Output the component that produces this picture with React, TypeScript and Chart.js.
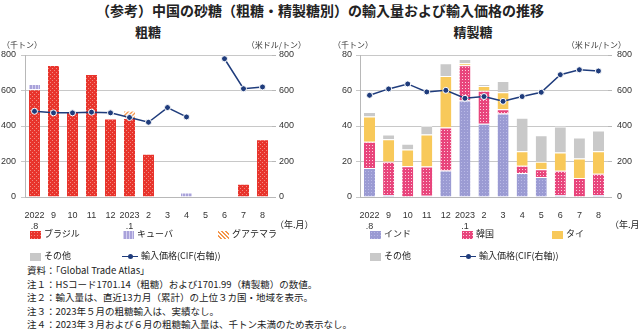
import React, { useEffect, useRef } from "react";
import { Chart, registerables } from "chart.js";
Chart.register(...registerables);

const months: (string | string[])[] = [["2022", ".8"], "9", "10", "11", "12", ["2023", ".1"], "2", "3", "4", "5", "6", "7", "8"];

// 粗糖 (千トン)
const rawBrazil = [607, 743, 485, 693, 442, 445, 244, null, null, null, null, 75, 326];
const rawCuba = [30, null, null, null, null, null, null, null, 26, null, null, null, null];
const rawGuatemala = [null, null, null, null, null, 42, null, null, null, null, null, null, null];
const rawOther = [null, null, null, null, null, null, null, null, null, null, null, null, null];
const rawPrice = [483, 474, 474, 478, 474, 448, 421, 504, 451, null, 779, 610, 620];

// 精製糖 (千トン)
const refIndia = [16.3, 1.1, 0, 0.7, 15.0, 54.3, 41.2, 47.0, 13.5, 11.2, 1.0, 0.3, 1.1];
const refKorea = [14.8, 18.8, 17.3, 16.5, 24.1, 19.9, 18.7, 2.4, 4.1, 4.5, 13.8, 10.4, 12.0];
const refThai = [14.2, 12.7, 9.4, 18.0, 29.1, 1.1, 2.6, 9.6, 8.2, 4.2, 10.3, 11.0, 12.7];
const refOther = [2.6, 2.6, 3.3, 4.9, 7.1, 2.4, 1.2, 6.4, 18.8, 14.9, 14.6, 11.8, 11.7];
const refPrice = [573, 609, 637, 592, 601, 556, 566, 539, 566, 590, 689, 717, 710];

const leftTicks = [0, 200, 400, 600, 800];
const rightTicksRef = [0, 20, 40, 60, 80];

const FONT = "'Liberation Sans', 'Noto Sans CJK JP', sans-serif";
const JFONT = "'Noto Sans CJK JP', sans-serif";
const NAVY = "#1f3c7c";
const GRID = "#c8c8c8";

function makePattern(size: number, draw: (ctx: CanvasRenderingContext2D) => void): CanvasPattern {
  const c = document.createElement("canvas");
  c.width = size;
  c.height = size;
  const ctx = c.getContext("2d")!;
  draw(ctx);
  return ctx.createPattern(c, "repeat")!;
}

function patterns() {
  const brazil = makePattern(4, (ctx) => {
    ctx.fillStyle = "#e8342c";
    ctx.fillRect(0, 0, 4, 4);
    ctx.fillStyle = "#f38a82";
    ctx.fillRect(0, 0, 1, 1);
    ctx.fillRect(2, 2, 1, 1);
  });
  const cuba = makePattern(3, (ctx) => {
    ctx.fillStyle = "#a9a2da";
    ctx.fillRect(0, 0, 3, 3);
    ctx.fillStyle = "#d4d0f0";
    ctx.fillRect(2, 0, 1, 3);
  });
  const guat = makePattern(4, (ctx) => {
    ctx.fillStyle = "#ffffff";
    ctx.fillRect(0, 0, 4, 4);
    ctx.strokeStyle = "#f4964c";
    ctx.lineWidth = 1.3;
    ctx.beginPath();
    ctx.moveTo(-1, 5);
    ctx.lineTo(5, -1);
    ctx.moveTo(-1, 1);
    ctx.lineTo(1, -1);
    ctx.moveTo(3, 5);
    ctx.lineTo(5, 3);
    ctx.stroke();
  });
  const india = makePattern(3, (ctx) => {
    ctx.fillStyle = "#9b9bd3";
    ctx.fillRect(0, 0, 3, 3);
    ctx.fillStyle = "#b9b9e6";
    ctx.fillRect(0, 0, 1, 1);
  });
  const korea = makePattern(3, (ctx) => {
    ctx.fillStyle = "#e8457c";
    ctx.fillRect(0, 0, 3, 3);
    ctx.fillStyle = "#fbd0dd";
    ctx.fillRect(1, 1, 1, 1);
  });
  return { brazil, cuba, guat, india, korea };
}

function unitPlugin(leftX: number, rightX: number) {
  return {
    id: "units",
    afterDraw(chart: any) {
      const ctx = chart.ctx as CanvasRenderingContext2D;
      ctx.save();
      ctx.font = `8px ${JFONT}`;
      ctx.fillStyle = "#333";
      ctx.textBaseline = "middle";
      ctx.textAlign = "left";
      ctx.fillText("（千トン）", leftX, 9);
      ctx.textAlign = "right";
      ctx.fillText("（米ドル/トン）", rightX, 9);
      ctx.restore();
    },
  };
}

function buildConfig(
  bars: { label: string; data: (number | null)[]; bg: any }[],
  price: (number | null)[],
  leftMax: number,
  leftStep: number,
  leftW: number,
  rightW: number,
  leftPad: number,
  rightPad: number,
  unitLeftX: number
): any {
  const datasets: any[] = [
    {
      type: "line",
      label: "輸入価格(CIF(右軸))",
      data: price,
      yAxisID: "y1",
      borderColor: NAVY,
      borderWidth: 1.5,
      pointRadius: 3,
      pointBackgroundColor: NAVY,
      pointBorderColor: "#ffffff",
      pointBorderWidth: 1,
      spanGaps: false,
      order: 0,
    },
    ...bars.map((b) => ({
      type: "bar",
      label: b.label,
      data: b.data,
      backgroundColor: b.bg,
      borderColor: "#ffffff",
      borderWidth: { top: 1, left: 0, right: 0, bottom: 0 },
      borderSkipped: "bottom",
      barPercentage: 0.58,
      categoryPercentage: 1,
      yAxisID: "y",
      stack: "s",
      order: 1,
    })),
  ];
  return {
    type: "bar",
    data: { labels: months, datasets },
    options: {
      animation: false,
      responsive: false,
      maintainAspectRatio: false,
      layout: { padding: { top: 19, left: 0, right: 0, bottom: 0 } },
      plugins: { legend: { display: false }, tooltip: { enabled: false } },
      scales: {
        x: {
          stacked: true,
          grid: { display: false },
          border: { display: true, color: "#b8b8b8" },
          ticks: {
            autoSkip: false,
            maxRotation: 0,
            minRotation: 0,
            padding: 5,
            color: "#333",
            font: { size: 9, family: FONT },
          },
          afterFit(axis: any) {
            axis.height = 33;
          },
        },
        y: {
          stacked: true,
          min: 0,
          max: leftMax,
          ticks: { stepSize: leftStep, padding: leftPad, color: "#333", font: { size: 9, family: FONT } },
          grid: { color: GRID, lineWidth: 1, tickLength: 4 },
          border: { display: true, color: "#b8b8b8" },
          afterFit(axis: any) {
            axis.width = leftW;
          },
        },
        y1: {
          position: "right",
          min: 0,
          max: 800,
          ticks: { stepSize: 200, padding: rightPad, color: "#333", font: { size: 9, family: FONT } },
          grid: { drawOnChartArea: false, color: "#b8b8b8", tickLength: 4 },
          border: { display: false },
          afterFit(axis: any) {
            axis.width = rightW;
          },
        },
      },
    },
    plugins: [unitPlugin(unitLeftX, 306)],
  };
}

const swatch = (bg: string, extra: React.CSSProperties = {}): React.CSSProperties => ({
  display: "inline-block",
  width: 11,
  height: 8,
  background: bg,
  marginRight: 3,
  verticalAlign: "middle",
  ...extra,
});

const legendText: React.CSSProperties = {
  position: "absolute",
  fontSize: 9,
  fontFamily: JFONT,
  color: "#222",
  whiteSpace: "nowrap",
  lineHeight: "12px",
};

const dotBg = (base: string, dot: string) =>
  `radial-gradient(circle, ${dot} 0.6px, transparent 0.8px) 0 0 / 3px 3px, ${base}`;

function LineIcon() {
  return (
    <span style={{ display: "inline-block", position: "relative", width: 16, height: 8, marginRight: 3, verticalAlign: "middle" }}>
      <span style={{ position: "absolute", left: 0, top: 3.5, width: 16, height: 1.2, background: NAVY }} />
      <span style={{ position: "absolute", left: 5.5, top: 1.5, width: 5, height: 5, borderRadius: 3, background: NAVY }} />
    </span>
  );
}

export default function App() {
  const leftRef = useRef<HTMLCanvasElement>(null);
  const rightRef = useRef<HTMLCanvasElement>(null);

  useEffect(() => {
    const p = patterns();
    const c1 = new Chart(
      leftRef.current!,
      buildConfig(
        [
          { label: "ブラジル", data: rawBrazil, bg: p.brazil },
          { label: "キューバ", data: rawCuba, bg: p.cuba },
          { label: "グアテマラ", data: rawGuatemala, bg: p.guat },
          { label: "その他", data: rawOther, bg: "#c8c8c8" },
        ],
        rawPrice,
        leftTicks[leftTicks.length - 1],
        200,
        25,
        48,
        5,
        3,
        2
      )
    );
    const c2 = new Chart(
      rightRef.current!,
      buildConfig(
        [
          { label: "インド", data: refIndia, bg: p.india },
          { label: "韓国", data: refKorea, bg: p.korea },
          { label: "タイ", data: refThai, bg: "#f8c95a" },
          { label: "その他", data: refOther, bg: "#c9c9c9" },
        ],
        refPrice,
        rightTicksRef[rightTicksRef.length - 1],
        20,
        40,
        32,
        4,
        5,
        13
      )
    );
    return () => {
      c1.destroy();
      c2.destroy();
    };
  }, []);

  return (
    <div
      style={{
        position: "fixed",
        left: 0,
        top: 0,
        width: 640,
        height: 329,
        background: "#fff",
        overflow: "hidden",
        fontFamily: JFONT,
        color: "#222",
      }}
    >
      <div style={{ position: "absolute", top: 1, left: 0, width: 640, textAlign: "center", fontSize: 14, fontWeight: 700, lineHeight: "18px" }}>
        （参考）中国の砂糖（粗糖・精製糖別）の輸入量および輸入価格の推移
      </div>
      <div style={{ position: "absolute", top: 23, left: 98, width: 100, textAlign: "center", fontSize: 13, fontWeight: 700, lineHeight: "18px" }}>
        粗糖
      </div>
      <div style={{ position: "absolute", top: 23, left: 423, width: 100, textAlign: "center", fontSize: 13, fontWeight: 700, lineHeight: "18px" }}>
        精製糖
      </div>
      <canvas ref={leftRef} width={320} height={194} style={{ position: "absolute", left: 0, top: 36, width: 320, height: 194 }} />
      <canvas ref={rightRef} width={320} height={194} style={{ position: "absolute", left: 320, top: 36, width: 320, height: 194 }} />

      <div style={{ ...legendText, left: 275, top: 219 }}>（年.月）</div>
      <div style={{ ...legendText, left: 610, top: 219 }}>（年.月）</div>

      {/* left legend */}
      <div style={{ ...legendText, left: 30, top: 228 }}>
        <span style={swatch(dotBg("#e8342c", "#f38a82"))} />ブラジル
      </div>
      <div style={{ ...legendText, left: 123, top: 228 }}>
        <span style={swatch("linear-gradient(90deg, #d4d0f0 1px, transparent 1px) 0 0 / 3px 3px, #a9a2da")} />キューバ
      </div>
      <div style={{ ...legendText, left: 218, top: 228 }}>
        <span style={swatch("repeating-linear-gradient(45deg, #ffffff 0px, #ffffff 1.5px, #f4964c 1.5px, #f4964c 3px)")} />グアテマラ
      </div>
      <div style={{ ...legendText, left: 30, top: 250 }}>
        <span style={swatch("#c8c8c8")} />その他
      </div>
      <div style={{ ...legendText, left: 122, top: 250 }}>
        <LineIcon />輸入価格(CIF(右軸))
      </div>

      {/* right legend */}
      <div style={{ ...legendText, left: 370, top: 228 }}>
        <span style={swatch(dotBg("#9b9bd3", "#b9b9e6"))} />インド
      </div>
      <div style={{ ...legendText, left: 462, top: 228 }}>
        <span style={swatch(dotBg("#e8457c", "#fbd0dd"))} />韓国
      </div>
      <div style={{ ...legendText, left: 552, top: 228 }}>
        <span style={swatch("#f8c95a")} />タイ
      </div>
      <div style={{ ...legendText, left: 370, top: 250 }}>
        <span style={swatch("#c9c9c9")} />その他
      </div>
      <div style={{ ...legendText, left: 460, top: 250 }}>
        <LineIcon />輸入価格(CIF(右軸))
      </div>

      {/* notes */}
      <div style={{ position: "absolute", left: 27, top: 264, fontSize: 9.5, lineHeight: "13.5px", fontFamily: JFONT, color: "#222", whiteSpace: "nowrap" }}>
        <div>資料：「Global Trade Atlas」</div>
        <div>注１：HSコード1701.14（粗糖）および1701.99（精製糖）の数値。</div>
        <div>注２：輸入量は、直近13カ月（累計）の上位３カ国・地域を表示。</div>
        <div>注３：2023年５月の粗糖輸入は、実績なし。</div>
        <div>注４：2023年３月および６月の粗糖輸入量は、千トン未満のため表示なし。</div>
      </div>
    </div>
  );
}
